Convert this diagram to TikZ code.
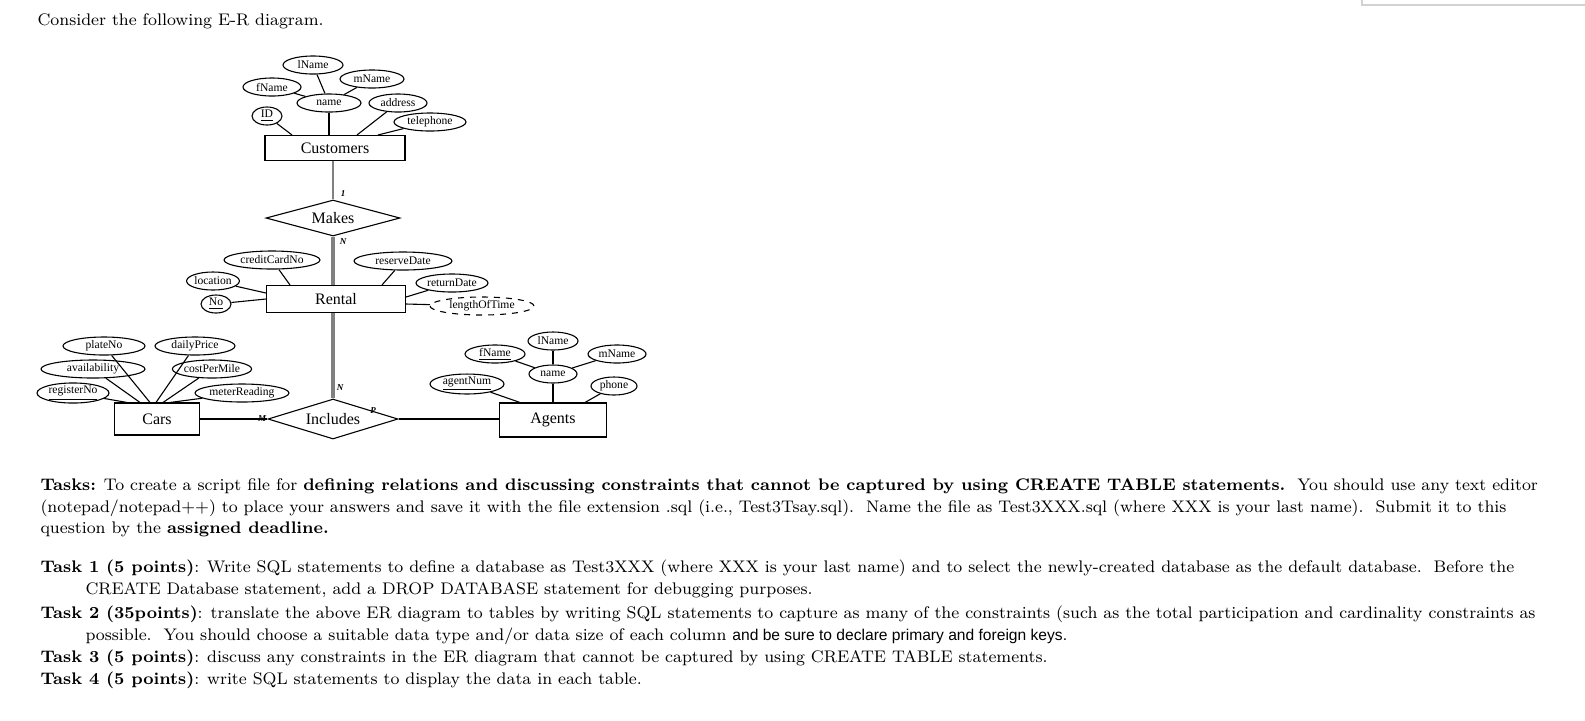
\documentclass[tikz,border=0pt]{standalone}
\usepackage{fontspec}
\newfontfamily\arialf{Liberation Sans}
\newfontfamily\dgf{Liberation Serif}
\usetikzlibrary{shapes.geometric}
\begin{document}
\begin{tikzpicture}[x=0.5pt,y=-0.5pt,line width=0.55pt,
  attr/.style={ellipse,draw,inner sep=0pt,minimum height=9pt,font=\dgf\fontsize{5.8}{6}\selectfont},
  ent/.style={rectangle,draw,inner sep=0pt,font=\dgf\fontsize{8}{8}\selectfont},
  rel/.style={diamond,draw,aspect=3.6,inner sep=0pt,font=\dgf\fontsize{8}{8}\selectfont},
  card/.style={font=\dgf\fontsize{4.5}{4}\selectfont\bfseries\itshape,inner sep=0pt},
  body/.style={anchor=base west,inner sep=0pt,font=\fontsize{8.4}{10}\selectfont},
  tot/.style={line width=2pt,gray}]
\useasboundingbox (0,0) rectangle (1585,720);
\draw[gray!35,line width=0.8pt] (1362,0) -- (1362,5) -- (1585,5);
\node[body] (t0) at (37,25) {Consider the following E-R diagram.};
% Customers cluster
\node[ent,minimum width=70pt,minimum height=12.5pt] (cust) at (335,148) {Customers};
\node[attr,minimum width=30pt] (clname) at (313,65) {lName};
\node[attr,minimum width=32pt] (cmname) at (372,79) {mName};
\node[attr,minimum width=29pt] (cfname) at (272,87) {fName};
\node[attr,minimum width=32pt] (cname) at (329,103) {name};
\node[attr,minimum width=29pt] (caddr) at (398,103) {address};
\node[attr,minimum width=15pt] (cid) at (267,116) {\underline{ID}};
\node[attr,minimum width=36pt] (ctel) at (430,122) {telephone};
\draw (clname) -- (cname); \draw (cmname) -- (cname); \draw (cfname) -- (cname);
\draw (cname) -- (cname |- cust.north);
\draw (cid) -- (cust.north -| 292,0);
\draw (caddr) -- (cust.north -| 357,0);
\draw (ctel) -- (cust.north -| 378,0);
% Makes
\node[rel,minimum width=67pt,minimum height=18pt] (makes) at (333,218) {Makes};
\draw[gray,line width=0.8pt] (cust.south -| makes) -- (makes.north);
\node[card] (c1) at (343,194) {1};
\node[card] (cn) at (343,242) {N};
% Rental
\node[ent,minimum width=69.5pt,minimum height=13.5pt] (rental) at (336,299) {Rental};
\draw[tot] (makes.south) -- (rental.north -| makes);
\node[attr,minimum width=48pt] (rcc) at (272,260) {creditCardNo};
\node[attr,minimum width=49pt] (rres) at (403,261) {reserveDate};
\node[attr,minimum width=26pt] (rloc) at (213,281) {location};
\node[attr,minimum width=36pt] (rret) at (452,283) {returnDate};
\node[attr,minimum width=15pt] (rno) at (216,304) {\underline{No}};
\node[attr,dashed,minimum width=52pt] (rlen) at (482,306) {lengthOfTime};
\draw (rcc) -- (rental.north -| 290,0);
\draw (rres) -- (rental.north -| 382,0);
\draw (rloc) -- (rental.west |- 0,293);
\draw (rno) -- (rental.west |- 0,299);
\draw (rret) -- (rental.east |- 0,297);
\draw (rlen) -- (rental.east |- 0,304);
% Includes
\node[rel,minimum width=65pt,minimum height=20pt] (incl) at (333,419) {Includes};
\draw[tot] (rental.south -| incl) -- (incl.north);
\node[card] (cnn) at (340,388) {N};
\node[ent,minimum width=42.5pt,minimum height=16pt] (cars) at (157,419) {Cars};
\node[ent,minimum width=53.5pt,minimum height=17pt] (agents) at (553,420) {Agents};
\draw (cars.east) -- (incl.west);
\draw (incl.east) -- (agents.west |- incl.east);
\node[card] (cm) at (262,419) {M};
\node[card] (cp) at (373,411) {P};
% Cars attrs
\node[attr,minimum width=41pt] (kplate) at (104,346) {plateNo};
\node[attr,minimum width=40pt] (kdaily) at (195,346) {dailyPrice};
\node[attr,minimum width=52pt] (kavail) at (93,369) {availability};
\node[attr,minimum width=38pt] (kcost) at (212,369) {costPerMile};
\node[attr,minimum width=36pt] (kreg) at (73,393) {\underline{registerNo}};
\node[attr,minimum width=47pt] (kmeter) at (242,393) {meterReading};
\draw (kreg) -- (cars.north -| 127,0);
\draw (kavail) -- (cars.north -| 140,0);
\draw (kplate) -- (cars.north -| 150,0);
\draw (kdaily) -- (cars.north -| 156,0);
\draw (kcost) -- (cars.north -| 163,0);
\draw (kmeter) -- (cars.north -| 170,0);
% Agents attrs
\node[attr,minimum width=25pt] (alname) at (553,341) {lName};
\node[attr,minimum width=30pt] (afname) at (495,354) {\underline{fName}};
\node[attr,minimum width=29pt] (amname) at (617,354) {mName};
\node[attr,minimum width=24pt] (aname) at (553,374) {name};
\node[attr,minimum width=37pt] (anum) at (467,384) {\underline{agentNum}};
\node[attr,minimum width=23pt] (aphone) at (614,386) {phone};
\draw (alname) -- (aname); \draw (afname) -- (aname); \draw (amname) -- (aname);
\draw (aname) -- (aname |- agents.north);
\draw (anum) -- (agents.north -| 520,0);
\draw (aphone) -- (agents.north -| 585,0);
% Text
\node[body] (p1) at (40,490) {\textbf{Tasks:} To create a script file for \textbf{defining relations and discussing constraints that cannot be captured by using CREATE TABLE statements.}\ \ You should use any text editor};
\node[body] (p2) at (40,512) {(notepad/notepad++) to place your answers and save it with the file extension .sql (i.e., Test3Tsay.sql).\ \ Name the file as Test3XXX.sql (where XXX is your last name).\ \ Submit it to this};
\node[body] (p3) at (40,533) {question by the \textbf{assigned deadline.}};
\node[body] (p4) at (40,572) {\textbf{Task 1 (5 points)}: Write SQL statements to define a database as Test3XXX (where XXX is your last name) and to select the newly-created database as the default database.\ \ Before the};
\node[body] (p5) at (85,594) {CREATE Database statement, add a DROP DATABASE statement for debugging purposes.};
\node[body] (p6) at (40,618) {\textbf{Task 2 (35points)}: translate the above ER diagram to tables by writing SQL statements to capture as many of the constraints (such as the total participation and cardinality constraints as};
\node[body] (p7) at (85,640) {possible.\ \ You should choose a suitable data type and/or data size of each column {\arialf\fontsize{7.8}{9}\selectfont and be sure to declare primary and foreign keys.}};
\node[body] (p8) at (40,662) {\textbf{Task 3 (5 points)}: discuss any constraints in the ER diagram that cannot be captured by using CREATE TABLE statements.};
\node[body] (p9) at (40,684) {\textbf{Task 4 (5 points)}: write SQL statements to display the data in each table.};
\end{tikzpicture}
\end{document}
